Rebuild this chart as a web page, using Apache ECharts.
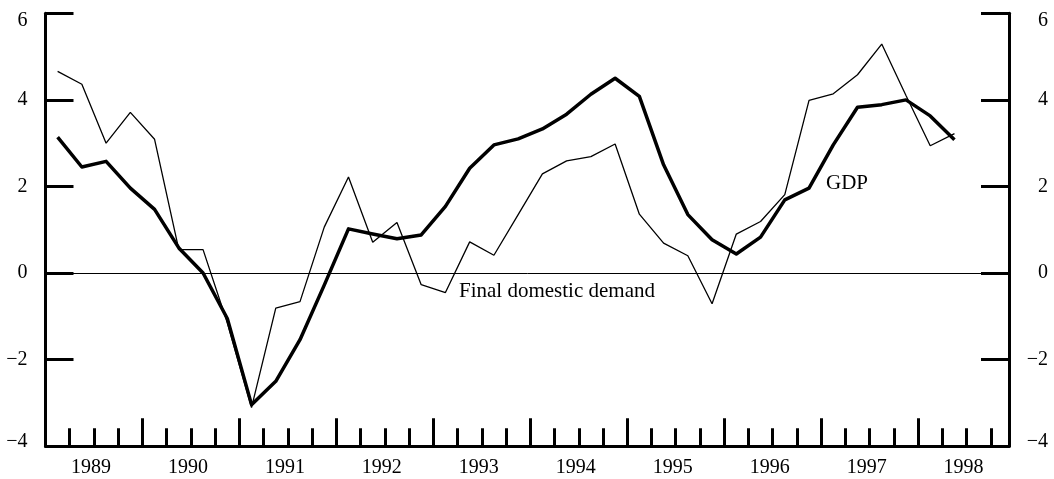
<!DOCTYPE html>
<html>
<head>
<meta charset="utf-8">
<script src="https://cdn.jsdelivr.net/npm/echarts@6/dist/echarts.min.js"></script>
<style>
html,body{margin:0;padding:0;background:#fff;}
#chart{width:1054px;height:479px;}
</style>
</head>
<body>
<div id="chart"></div>
<script>
// Quarterly data, 1989Q1 .. 1998Q2 (percent change)
const years = [1989, 1990, 1991, 1992, 1993, 1994, 1995, 1996, 1997, 1998];
const gdp = [3.14, 2.45, 2.58, 1.96, 1.47, 0.58, 0.00, -1.05, -3.04, -2.50,
             -1.54, -0.28, 1.02, 0.90, 0.79, 0.88, 1.54, 2.42, 2.96, 3.10,
             3.33, 3.67, 4.13, 4.50, 4.08, 2.50, 1.35, 0.77, 0.44, 0.83,
             1.69, 1.96, 2.96, 3.83, 3.89, 4.00, 3.63, 3.08];
const fdd = [4.66, 4.36, 3.00, 3.71, 3.09, 0.54, 0.54, -1.15, -3.11, -0.81,
             -0.66, 1.06, 2.22, 0.71, 1.17, -0.27, -0.45, 0.72, 0.41, 1.35,
             2.29, 2.59, 2.69, 2.98, 1.36, 0.69, 0.40, -0.71, 0.90, 1.19,
             1.81, 3.99, 4.14, 4.58, 5.29, 4.10, 2.94, 3.22];
const yTicks = [-4, -2, 0, 2, 4, 6];
const seriesNames = ['GDP', 'Final domestic demand'];

const FONT = 'Liberation Serif';
const xMax = 39.75;

function yFmt(v) {
  const s = v < 0 ? '\u2212' + (-v) : String(v);
  if (v === yTicks[yTicks.length - 1]) return '{t|' + s + '}';
  if (v === yTicks[0]) return '{b|' + s + '}';
  return s;
}
const richY = {
  t: {padding: [15, 0, 0, 0], fontFamily: FONT, fontSize: 20, color: '#000'},
  b: {padding: [0, 0, 8, 0], fontFamily: FONT, fontSize: 20, color: '#000'}
};

const yBase = {
  type: 'value', min: yTicks[0], max: yTicks[yTicks.length - 1], interval: 2,
  axisLine: {show: true, onZero: false, lineStyle: {color: '#000', width: 3}},
  axisTick: {show: true, inside: true, length: 28, lineStyle: {color: '#000', width: 3}},
  splitLine: {show: false}
};

const chart = echarts.init(document.getElementById('chart'), null, {renderer: 'canvas'});
chart.setOption({
  animation: false,
  backgroundColor: '#fff',
  grid: {left: 45.5, right: 45, top: 13.3, bottom: 32.8, containLabel: false},
  xAxis: [
    {
      type: 'value', min: 0, max: xMax, interval: 1, position: 'bottom',
      axisLine: {show: true, onZero: false, lineStyle: {color: '#000', width: 3}},
      axisTick: {show: true, inside: true, length: 18, lineStyle: {color: '#000', width: 3}},
      splitLine: {show: false},
      axisLabel: {
        show: true, margin: 12, fontFamily: FONT, fontSize: 20, color: '#000',
        padding: [0, 6, 0, 0],
        showMinLabel: true, showMaxLabel: true,
        formatter: function (v) {
          if (Math.abs(v - Math.round(v)) > 1e-6) return '';
          const r = Math.round(v);
          if (r % 4 !== 2) return '';
          const idx = (r - 2) / 4;
          return idx < years.length ? String(years[idx]) : '';
        }
      }
    },
    {
      type: 'value', min: 0, max: xMax, interval: 4, position: 'bottom',
      axisLine: {show: false, onZero: false},
      axisTick: {show: true, inside: true, length: 28, lineStyle: {color: '#000', width: 3}},
      splitLine: {show: false},
      axisLabel: {show: false}
    }
  ],
  yAxis: [
    Object.assign({}, yBase, {
      position: 'left',
      axisLabel: {margin: 18, fontFamily: FONT, fontSize: 20, color: '#000', align: 'right', formatter: yFmt, rich: richY}
    }),
    Object.assign({}, yBase, {
      position: 'right',
      axisLabel: {margin: 39, fontFamily: FONT, fontSize: 20, color: '#000', align: 'right', formatter: yFmt, rich: richY}
    })
  ],
  series: [
    {
      name: seriesNames[0], type: 'line', xAxisIndex: 0, yAxisIndex: 0,
      data: gdp.map((v, i) => [i + 0.5, v]),
      symbol: 'none', silent: true,
      lineStyle: {color: '#000', width: 3.5, join: 'round'},
      z: 3,
      markPoint: {
        symbol: 'circle', symbolSize: 1, itemStyle: {color: 'rgba(0,0,0,0)'}, silent: true,
        label: {show: true, position: 'inside', align: 'left', verticalAlign: 'middle',
                fontFamily: FONT, fontSize: 21, color: '#000', formatter: seriesNames[0]},
        data: [{coord: [32.2, 2.06]}]
      }
    },
    {
      name: seriesNames[1], type: 'line', xAxisIndex: 0, yAxisIndex: 0,
      data: fdd.map((v, i) => [i + 0.5, v]),
      symbol: 'none', silent: true,
      lineStyle: {color: '#000', width: 1.3},
      z: 2,
      markLine: {
        silent: true, symbol: ['none', 'none'], label: {show: false},
        lineStyle: {color: '#000', width: 1, type: 'solid'},
        data: [{yAxis: 0}]
      },
      markPoint: {
        symbol: 'circle', symbolSize: 1, itemStyle: {color: 'rgba(0,0,0,0)'}, silent: true,
        label: {show: true, position: 'inside', align: 'left', verticalAlign: 'middle',
                fontFamily: FONT, fontSize: 21, color: '#000', formatter: seriesNames[1]},
        data: [{coord: [17.06, -0.42]}]
      }
    }
  ]
});
</script>
</body>
</html>
